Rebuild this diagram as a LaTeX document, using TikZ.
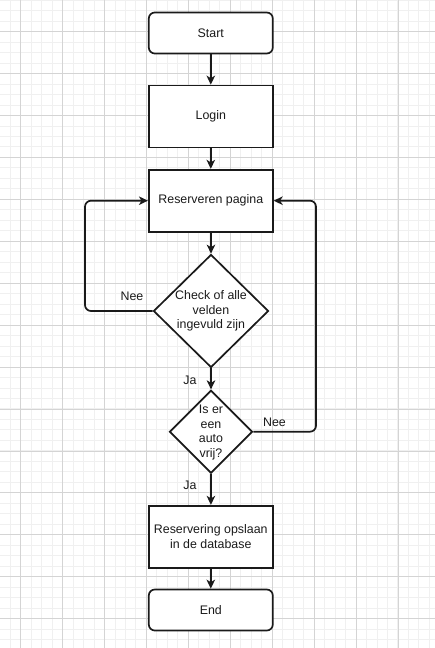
\documentclass[tikz,border=0pt]{standalone}
\usepackage{fontspec}
\setmainfont{Liberation Sans}
\usetikzlibrary{shapes.geometric,arrows.meta}
\definecolor{gridminor}{HTML}{F0F0F0}
\definecolor{gridmajor}{HTML}{D4D4D4}
\definecolor{ink}{HTML}{1A1A1A}
\tikzset{
  box/.style={draw=ink, line width=1.7pt, fill=white, minimum width=124pt, inner sep=0pt, align=center, font=\fontsize{12.4}{14.5}\selectfont, text=ink},
  term/.style={box, rounded corners=6pt, minimum height=41pt},
  proc/.style={box, minimum height=62pt},
  dec/.style={draw=ink, line width=1.7pt, fill=white, diamond, inner sep=0pt, aspect=1},
  lbl/.style={align=center, font=\fontsize{12.4}{14.5}\selectfont, text=ink, inner sep=0pt},
  flow/.style={draw=ink, line width=1.7pt, rounded corners=6pt, -{Stealth[length=9pt,width=8.5pt,inset=2.5pt]}},
}
\begin{document}
\begin{tikzpicture}[x=1pt,y=-1pt]
\useasboundingbox (0,0) rectangle (435,648);
\fill[white] (0,0) rectangle (435,648);
% grid
\foreach \i in {-2,...,42} {
  \draw[gridminor, line width=1pt] ({20.7+\i*10.48},0) -- ({20.7+\i*10.48},648);
}
\foreach \i in {-3,...,62} {
  \draw[gridminor, line width=1pt] (0,{31.7+\i*10.48}) -- (435,{31.7+\i*10.48});
}
\foreach \i in {0,...,10} {
  \draw[gridmajor, line width=0.8pt] ({20.7+\i*41.92},0) -- ({20.7+\i*41.92},648);
}
\foreach \i in {0,...,15} {
  \draw[gridmajor, line width=0.8pt] (0,{31.7+\i*41.92}) -- (435,{31.7+\i*41.92});
}
% nodes
\node[term] (start) at (210.8,33) {Start};
\node[proc] (login) at (210.8,116.5) {Login};
\node[proc] (res) at (210.8,200.7) {Reserveren pagina};
\node[dec, minimum width=115pt, minimum height=113pt] (d1) at (211,311) {};
\node[lbl] (d1t) at (211,311) {Check of alle\\velden\\ingevuld zijn};
\node[dec, minimum width=83pt, minimum height=83pt] (d2) at (211,431.7) {};
\node[lbl] (d2t) at (211,432.5) {Is er\\een\\auto\\vrij?};
\node[proc] (save) at (210.8,536.7) {Reservering opslaan\\in de database};
\node[term] (end) at (210.8,610) {End};
\coordinate (lx) at (85,0);
\coordinate (rx) at (316,0);
% connectors
\draw[flow] (start) -- (login);
\draw[flow] (login) -- (res);
\draw[flow] (res) -- (d1.north);
\draw[flow] (d1.south) -- (d2.north);
\draw[flow] (d2.south) -- (save);
\draw[flow] (save) -- (end);
\draw[flow] (d1.west) -- (d1.west -| lx) |- (res.west);
\draw[flow] (d2.east) -- (d2.east -| rx) |- (res.east);
% labels
\node[lbl] (nee1) at (132,296) {Nee};
\node[lbl] (nee2) at (274.5,422) {Nee};
\node[lbl] (ja1) at (190,380) {Ja};
\node[lbl] (ja2) at (190,485) {Ja};
\end{tikzpicture}
\end{document}
